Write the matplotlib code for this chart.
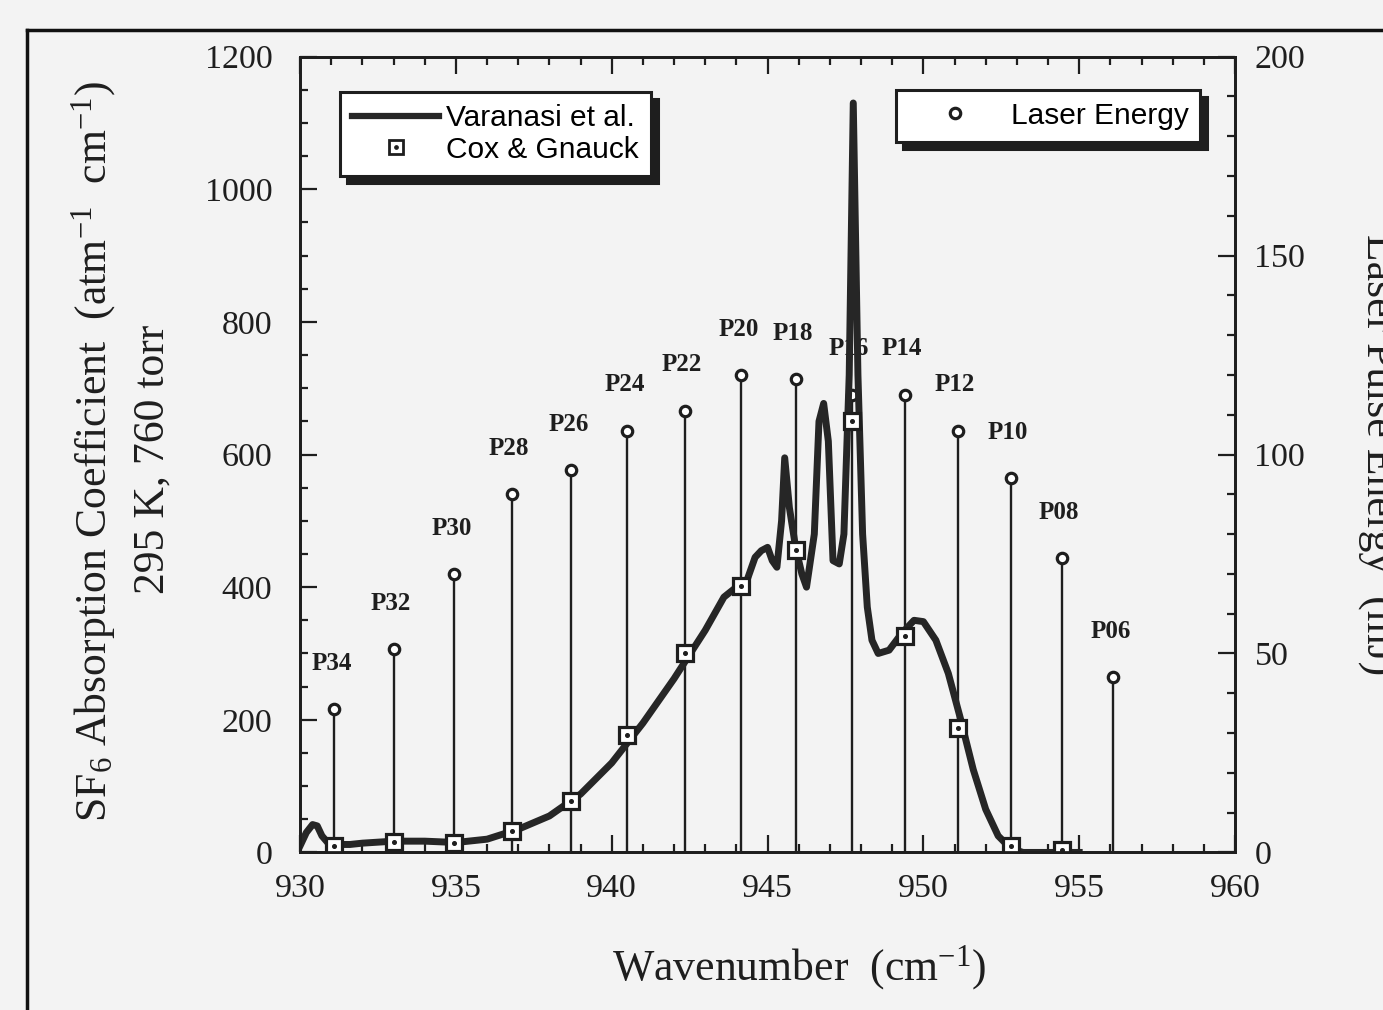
import matplotlib
matplotlib.use("Agg")
import matplotlib.pyplot as plt
from matplotlib.lines import Line2D
from matplotlib.legend_handler import HandlerTuple
from matplotlib.ticker import MultipleLocator

# ---------- dados ----------
# espectro de absorcao (Varanasi et al.)
wn_var = [930.0, 930.2, 930.4, 930.55, 930.7, 930.9, 931.2, 931.6, 932.0, 933.0,
          934.0, 935.0, 936.0, 937.0, 938.0, 939.0, 940.0, 941.0, 942.0, 943.0,
          943.6, 944.0, 944.3, 944.6, 944.8, 945.0, 945.15, 945.3, 945.45, 945.55,
          945.7, 945.9, 946.1, 946.25, 946.5, 946.65, 946.8, 946.95, 947.1, 947.3,
          947.45, 947.62, 947.75, 947.9, 948.05, 948.2, 948.35, 948.55, 948.9, 949.3,
          949.7, 950.0, 950.4, 950.8, 951.2, 951.6, 952.0, 952.4, 952.8, 953.2,
          954.0, 955.0]
abs_var = [10, 30, 42, 40, 25, 14, 12, 12, 14, 17,
           17, 15, 20, 35, 55, 88, 135, 195, 262, 335,
           385, 400, 405, 445, 455, 460, 440, 430, 500, 595,
           520, 460, 420, 400, 480, 650, 677, 620, 440, 435,
           480, 720, 1130, 720, 480, 370, 320, 300, 305, 330,
           350, 348, 320, 270, 200, 125, 65, 25, 6, 0,
           0, 0]

# linhas do laser de CO2 (ramo P)
linhas = ["P34", "P32", "P30", "P28", "P26", "P24", "P22", "P20",
          "P18", "P16", "P14", "P12", "P10", "P08", "P06"]
wn_laser = [931.1, 933.0, 934.95, 936.8, 938.7, 940.5, 942.35, 944.15,
            945.9, 947.7, 949.4, 951.1, 952.8, 954.45, 956.1]
energia = [36, 51, 70, 90, 96, 106, 111, 120, 119, 115, 115, 106, 94, 74, 44]

# Cox & Gnauck (medidas nas linhas do laser)
wn_cox = [931.1, 933.0, 934.95, 936.8, 938.7, 940.5, 942.35, 944.15,
          945.9, 947.7, 949.4, 951.1, 952.8, 954.45]
abs_cox = [10, 15, 14, 32, 77, 177, 301, 401, 456, 650, 327, 188, 10, 3]

# ---------- figura ----------
plt.rcParams['font.family'] = ['Liberation Serif', 'DejaVu Serif']
plt.rcParams['mathtext.fontset'] = 'custom'
plt.rcParams['mathtext.rm'] = 'Liberation Serif'
plt.rcParams['mathtext.it'] = 'Liberation Serif:italic'

fundo = '#f3f3f3'
tinta = '#1e1e1e'
fig = plt.figure(figsize=(13.83, 10.10), dpi=100, facecolor=fundo)
ax = fig.add_axes([0.217, 0.156, 0.676, 0.788])
ax2 = ax.twinx()
ax.set_zorder(ax2.get_zorder() + 1)
ax.patch.set_visible(False)
ax2.patch.set_facecolor(fundo)

# hastes da energia do laser (eixo da direita)
ax2.vlines(wn_laser, 0, energia, color=tinta, lw=1.7)
ax2.plot(wn_laser, energia, 'o', ms=7.5, mfc='white', mec=tinta, mew=2.3,
         ls='none', label='Laser Energy')
for lab, x, e in zip(linhas, wn_laser, energia):
    ax2.annotate(lab, (x, e), xytext=(-2, 33), textcoords='offset points',
                 ha='center', va='center', fontsize=18, fontweight='bold',
                 color=tinta)

# curva e pontos (eixo da esquerda)
ax.plot(wn_var, abs_var, color='#262626', lw=5, solid_joinstyle='round',
        label='Varanasi et al.')
ax.plot(wn_cox, abs_cox, 's', ms=11, mfc='white', mec=tinta, mew=2.3, ls='none')
ax.plot(wn_cox, abs_cox, 'o', ms=2.6, color=tinta, ls='none')

ax.set_xlim(930, 960)
ax.set_ylim(0, 1200)
ax2.set_ylim(0, 200)

ax.xaxis.set_major_locator(MultipleLocator(5))
ax.xaxis.set_minor_locator(MultipleLocator(1))
ax.yaxis.set_major_locator(MultipleLocator(200))
ax.yaxis.set_minor_locator(MultipleLocator(50))
ax2.yaxis.set_major_locator(MultipleLocator(50))
ax2.yaxis.set_minor_locator(MultipleLocator(10))

ax.tick_params(which='both', direction='in', top=True, right=False,
               labelsize=24.5, width=1.6, color=tinta, labelcolor=tinta)
ax.tick_params(axis='x', pad=15)
ax.tick_params(axis='y', pad=20)
ax.tick_params(which='major', length=12)
ax.tick_params(which='minor', length=6)
ax2.tick_params(which='both', direction='in', labelsize=24.5, pad=14, width=1.6,
                color=tinta, labelcolor=tinta)
ax2.tick_params(which='major', length=12)
ax2.tick_params(which='minor', length=6)
for a in (ax, ax2):
    for s in a.spines.values():
        s.set_linewidth(2.0)
        s.set_color(tinta)

# legendas com sombra
h_var = Line2D([], [], color='#262626', lw=4.5)
h_sq = Line2D([], [], marker='s', ms=10, mfc='white', mec=tinta, mew=2, ls='none')
h_dot = Line2D([], [], marker='o', ms=2.4, color=tinta, ls='none')
leg1 = ax.legend([h_var, (h_sq, h_dot)], ['Varanasi et al.', 'Cox & Gnauck'],
                 handler_map={tuple: HandlerTuple(ndivide=1, pad=0)},
                 loc='upper left', bbox_to_anchor=(0.043, 0.955),
                 prop={'family': 'Liberation Sans', 'size': 21.5},
                 handlelength=2.9, handletextpad=0.25, labelspacing=0.12,
                 borderpad=0.4, borderaxespad=0, fancybox=False,
                 edgecolor=tinta, framealpha=1, facecolor='white',
                 shadow={'ox': 5, 'oy': -5, 'color': tinta, 'alpha': 1})
leg1.get_frame().set_linewidth(2.2)

leg2 = ax2.legend(loc='upper right', bbox_to_anchor=(0.963, 0.958),
                  prop={'family': 'Liberation Sans', 'size': 21.5},
                  handlelength=3.2, handletextpad=0.25, borderpad=0.4,
                  borderaxespad=0, fancybox=False, edgecolor=tinta,
                  framealpha=1, facecolor='white',
                  shadow={'ox': 5, 'oy': -5, 'color': tinta, 'alpha': 1})
leg2.get_frame().set_linewidth(2.2)

# rotulos dos eixos
fig.text(0.578, 0.042, 'Wavenumber  (cm$^{-1}$)', ha='center', va='center',
         fontsize=31.5, color=tinta)
fig.text(0.068, 0.553, 'SF$_6$ Absorption Coefficient  (atm$^{-1}$  cm$^{-1}$)',
         rotation=90, ha='center', va='center', fontsize=31.5, color=tinta)
fig.text(0.110, 0.545, '295 K, 760 torr', rotation=90, ha='center', va='center',
         fontsize=31.5, color=tinta)
fig.text(0.982, 0.55, 'Laser Pulse Energy  (mJ)', rotation=-90, ha='left',
         va='center', fontsize=31.5, color=tinta)

# moldura da pagina escaneada
fig.add_artist(Line2D([0.0195, 1.0], [0.970, 0.970], transform=fig.transFigure,
                      color='#111111', lw=2.5))
fig.add_artist(Line2D([0.0195, 0.0195], [0.0, 0.970], transform=fig.transFigure,
                      color='#111111', lw=2.5))

fig.savefig('out.png', dpi=100, facecolor=fundo)
